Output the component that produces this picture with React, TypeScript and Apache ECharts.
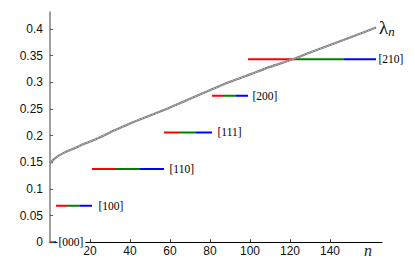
import React, { useEffect, useRef } from "react";
import * as echarts from "echarts";

// eigenvalue curve lambda_n
const curveN = [0, 1, 2, 3, 5, 8, 12, 16, 22, 30, 40, 50, 60, 73, 90, 100, 110, 121, 130, 140, 150, 163];
const curveV = [0.148, 0.152, 0.156, 0.159, 0.164, 0.17, 0.176, 0.183, 0.192, 0.206, 0.223, 0.238, 0.253, 0.274, 0.301, 0.315, 0.329, 0.343, 0.356, 0.37, 0.384, 0.403];

// levels
const levelNames = ["[000]", "[100]", "[110]", "[111]", "[200]", "[210]"];
const levelValues = [0, 0.0687, 0.1374, 0.2061, 0.2748, 0.3435];
const levelStart = [0, 3, 21, 57, 81, 99];
const levelRedEnd = [1, 9, 33, 65, 87, 123];
const levelGreenEnd = [2, 15, 45, 73, 93, 147];
const levelEnd = [3, 21, 57, 81, 99, 163];

const yTicks = [0, 0.05, 0.1, 0.15, 0.2, 0.25, 0.3, 0.35, 0.4];
const xTicks = [20, 40, 60, 80, 100, 120, 140];

const labelGaps = [1, 6, 5, 5, 4, 2];
const partColors = ["#ff0000", "#008000", "#0000ff"];

export default function App() {
  const ref = useRef<HTMLDivElement>(null);
  useEffect(() => {
    document.body.style.margin = "0";
    const chart = echarts.init(ref.current!, null, { renderer: "svg" });
    const series: any[] = [];
    levelNames.forEach((name, i) => {
      const bounds = [levelStart[i], levelRedEnd[i], levelGreenEnd[i], levelEnd[i]];
      for (let p = 0; p < 3; p++) {
        series.push({
          type: "line",
          data: [
            [bounds[p], levelValues[i]],
            [bounds[p + 1], levelValues[i]],
          ],
          symbol: "none",
          lineStyle: { color: partColors[p], width: 2 },
          z: 3,
        });
      }
      series.push({
        type: "scatter",
        data: [[levelEnd[i], levelValues[i], name]],
        symbol: "circle",
        symbolSize: 1,
        itemStyle: { color: "rgba(0,0,0,0)" },
        z: 4,
        label: {
          show: true,
          position: "right",
          distance: labelGaps[i],
          formatter: (p: any) => p.data[2],
          fontFamily: "Liberation Serif",
          fontSize: 11.5,
          color: "#000",
          opacity: 1,
          backgroundColor: i === 0 ? "#fff" : "transparent",
          padding: i === 0 ? [1, 2, 1, 1] : 0,
        },
      });
    });
    const curveData = curveN.map((n, i) => [n, curveV[i]]);
    series.push({
      type: "line",
      data: curveData,
      symbol: "none",
      smooth: 0.3,
      lineStyle: { color: "#7a7a7a", width: 2.2 },
      z: 5,
    });
    series.push({
      type: "line",
      data: curveData,
      symbol: "none",
      smooth: 0.3,
      lineStyle: { color: "#c8c8c8", width: 0.8, type: [2, 1] },
      z: 6,
    });

    chart.setOption({
      animation: false,
      grid: { left: 50, top: 12, width: 332, height: 230.3 },
      xAxis: {
        type: "value",
        min: 0,
        max: 166,
        splitLine: { show: false },
        axisLine: { lineStyle: { color: "#000", width: 1 } },
        axisTick: { inside: true, length: 3, lineStyle: { color: "#333" }, customValues: xTicks },
        axisLabel: {
          customValues: xTicks,
          margin: 3,
          fontFamily: "Liberation Sans",
          fontSize: 12,
          color: "#111",
        },
      },
      yAxis: {
        type: "value",
        min: 0,
        max: 0.432,
        splitLine: { show: false },
        axisLine: { show: true, lineStyle: { color: "#7f7f7f", width: 1.5 } },
        axisTick: { show: true, inside: true, length: 3, lineStyle: { color: "#555" }, customValues: yTicks },
        axisLabel: {
          customValues: yTicks,
          margin: 7,
          fontFamily: "Liberation Sans",
          fontSize: 12,
          color: "#111",
        },
      },
      graphic: [
        {
          type: "text",
          left: 379,
          top: 18,
          style: {
            text: "{a|λ}{b|n}",
            rich: {
              a: { fontFamily: "Liberation Serif", fontSize: 19, fill: "#111" },
              b: { fontFamily: "Liberation Serif", fontStyle: "italic", fontSize: 13, fill: "#111", padding: [8, 0, 0, 0] },
            },
          },
        },
        {
          type: "text",
          left: 364,
          top: 242,
          style: {
            text: "n",
            fontFamily: "Liberation Serif",
            fontStyle: "italic",
            fontSize: 16,
            fill: "#222",
          },
        },
      ],
      series,
    });
    return () => chart.dispose();
  }, []);
  return <div ref={ref} style={{ width: 415, height: 264 }} />;
}
